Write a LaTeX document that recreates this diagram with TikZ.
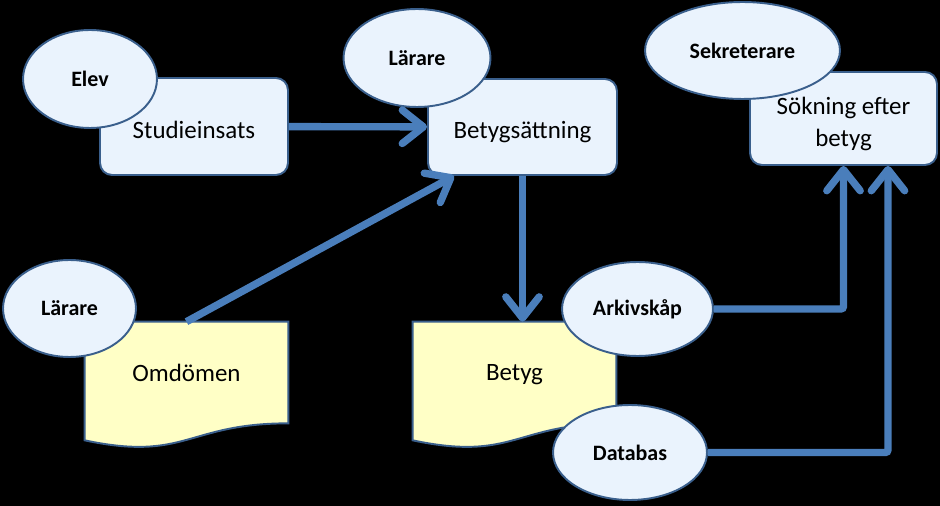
\documentclass[tikz,border=0pt]{standalone}
\usepackage{fontspec}
\setmainfont{Carlito}
\usetikzlibrary{arrows.meta}
\usetikzlibrary{shapes.geometric}
\usetikzlibrary{backgrounds}
\definecolor{boxfill}{HTML}{EAF3FD}
\definecolor{boxline}{HTML}{3A5F8C}
\definecolor{docfill}{HTML}{FFFFC6}
\definecolor{flowblue}{HTML}{4A7EBB}
\tikzset {
  % process step
  stepbox/.style = {
    draw = boxline,
    fill = boxfill,
    line width = 1.1pt,
    rounded corners = 2.4mm,
    align = center,
    text height = 13.5pt,
    text depth = 0pt,
    font = \fontsize{14.2}{18}\selectfont
  },
  % actor attached to a step
  actor/.style = {
    ellipse,
    draw = boxline,
    fill = boxfill,
    line width = 1.1pt,
    inner sep = 0,
    font = \bfseries\fontsize{12.5}{14}\selectfont
  },
  % holder for the text of a document
  doctext/.style = {
    minimum width = 4.06cm,
    minimum height = 2.02cm,
    text depth = 0pt,
    font = \fontsize{14.2}{18}\selectfont
  },
  % wavy document outline
  docshape/.style = {
    draw = boxline,
    fill = docfill,
    line width = 1.1pt
  },
  % path with no arrow
  flow/.style = {
    draw = flowblue,
    line width = 4.2pt,
    rounded corners = 1.5pt
  },
  % path with arrow
  arr/.style = {
    flow,
    -{Straight Barb[length=12pt, width=19pt, round]}
  }
}
% document outline behind a doctext node
\newcommand{\docoutline}[1]{
  \path[docshape] (#1.north west) -- (#1.north east) -- (#1.south east)
    .. controls (#1.south) and ([yshift=-0.77cm]#1.south)
    .. ([yshift=-0.34cm]#1.south west) -- cycle;
}
\begin{document}
\begin{tikzpicture}[x=0.02cm, y=-0.02cm]
  \useasboundingbox (0,0) rectangle (940,506);

  \node[stepbox, minimum width=3.76cm, minimum height=1.94cm] (studie) at (194,126.5) {Studieinsats};
  \node[stepbox, minimum width=3.78cm, minimum height=1.92cm] (betygs) at (522.5,127) {Betygsättning};
  \node[stepbox, minimum width=3.74cm, minimum height=1.86cm, text height=32pt] (sokning) at (843.5,118.5) {Sökning efter\\betyg};

  \node[doctext] (omdomen) at (186.5,372.5) {Omdömen};
  \node[doctext] (betyg) at (514.5,372.5) {Betyg};

  \begin{pgfonlayer}{background}
    \fill[black] (0,0) rectangle (940,506);
    \docoutline{omdomen}
    \docoutline{betyg}
  \end{pgfonlayer}

  \node[actor, minimum width=2.68cm, minimum height=1.96cm] (elev) at (90,79) {Elev};
  \node[actor, minimum width=2.94cm, minimum height=1.96cm] (lararetop) at (417,58) {Lärare};
  \node[actor, minimum width=3.9cm, minimum height=1.94cm] (sekr) at (742.5,50.5) {Sekreterare};
  \node[actor, minimum width=2.66cm, minimum height=1.94cm] (lararedoc) at (69.5,308.5) {Lärare};
  \node[actor, minimum width=3.02cm, minimum height=1.88cm] (arkiv) at (637.5,309) {Arkivskåp};
  \node[actor, minimum width=3.08cm, minimum height=1.9cm] (databas) at (630,452.5) {Databas};

  \coordinate (betygs-in) at ([xshift=0.54cm]betygs.south west);
  \coordinate (sok-db) at ([xshift=0.89cm]sokning.south);

  \draw[arr] (studie) -- (betygs);

  \draw[arr] (omdomen.north) -- (betygs-in);

  \draw[arr] (betygs.south) -- (betygs.south |- betyg.north);

  \draw[arr] (arkiv.east) -| (sokning.south);

  \draw[arr] (databas.east) -| (sok-db);
\end{tikzpicture}
\end{document}
